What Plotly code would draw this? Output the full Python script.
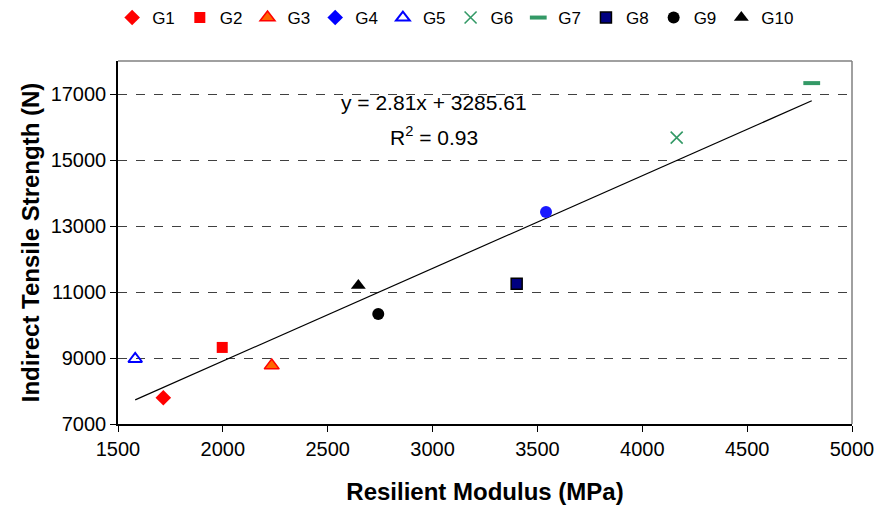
import plotly.graph_objects as go

# Resilient modulus (MPa) vs indirect tensile strength (N) per mix group
groups = ["G1", "G2", "G3", "G4", "G5", "G6", "G7", "G8", "G9", "G10"]
modulus = [1716, 1997, 2233, 3541, 1582, 4164, 4808, 3401, 2741, 2646]
strength = [7795, 9320, 8770, 13425, 8970, 15680, 17330, 11250, 10330, 11200]

# Linear trend reported on the chart
slope = 2.81
intercept = 3285.61
r_squared = 0.93

styles = {
    "G1": dict(symbol="diamond", color="#FF0000", size=12, line=dict(width=0)),
    "G2": dict(symbol="square", color="#FF0000", size=11, line=dict(width=0)),
    "G3": dict(symbol="triangle-up", color="#FF6600", size=13, line=dict(color="#FF0000", width=1.5)),
    "G4": dict(symbol="circle", color="#1A1AFF", size=12, line=dict(width=0)),
    "G5": dict(symbol="triangle-up-open", color="#0000FF", size=12, line=dict(width=2)),
    "G6": dict(symbol="x-thin", color="#339966", size=12, line=dict(color="#339966", width=1.6)),
    "G7": dict(symbol="line-ew", color="#339966", size=12, line=dict(color="#339966", width=4)),
    "G8": dict(symbol="square", color="#000080", size=11, line=dict(color="#000000", width=1.5)),
    "G9": dict(symbol="circle", color="#000000", size=12, line=dict(width=0)),
    "G10": dict(symbol="triangle-up", color="#000000", size=13, line=dict(width=0)),
}

FONT = "Arial, Liberation Sans, sans-serif"

fig = go.Figure()

# Trend line across the range of the data
xmin, xmax = min(modulus), max(modulus)
fig.add_trace(go.Scatter(
    x=[xmin, xmax], y=[slope * xmin + intercept, slope * xmax + intercept],
    mode="lines", line=dict(color="black", width=1.2),
    showlegend=False, hoverinfo="skip"))

for g, xv, yv in zip(groups, modulus, strength):
    st = styles[g]
    if g == "G4":
        # legend key uses a diamond while the point is drawn as a circle
        fig.add_trace(go.Scatter(
            x=[None], y=[None], mode="markers", name=g, legendgroup=g,
            marker=dict(symbol="diamond", color="#0000FF", size=12)))
        fig.add_trace(go.Scatter(
            x=[xv], y=[yv], mode="markers", name=g, legendgroup=g, showlegend=False,
            marker=dict(symbol=st["symbol"], color=st["color"], size=st["size"], line=st["line"])))
    else:
        fig.add_trace(go.Scatter(
            x=[xv], y=[yv], mode="markers", name=g, legendgroup=g,
            marker=dict(symbol=st["symbol"], color=st["color"], size=st["size"], line=st["line"])))

fig.add_annotation(
    x=0.431, y=0.885, xref="paper", yref="paper", showarrow=False, yanchor="middle",
    text=f"y = {slope}x + {intercept}", font=dict(family=FONT, size=21, color="black"))
fig.add_annotation(
    x=0.431, y=0.794, xref="paper", yref="paper", showarrow=False, yanchor="middle",
    text=f"R<sup>2</sup> = {r_squared}", font=dict(family=FONT, size=21, color="black"))

# top and right frame in grey
fig.add_shape(type="line", xref="paper", yref="paper", x0=0, x1=1, y0=1, y1=1,
              line=dict(color="#808080", width=1.5))
fig.add_shape(type="line", xref="paper", yref="paper", x0=1, x1=1, y0=0, y1=1,
              line=dict(color="#808080", width=1.5))

fig.update_layout(
    width=886, height=513,
    margin=dict(l=118, r=28, t=61, b=88),
    paper_bgcolor="white", plot_bgcolor="white",
    font=dict(family=FONT, size=19, color="black"),
    showlegend=True,
    legend=dict(orientation="h", x=0.46, xanchor="center", y=1.0, yref="container",
                yanchor="top", font=dict(family=FONT, size=17), itemwidth=30,
                tracegroupgap=0),
    xaxis=dict(
        range=[1500, 5000], dtick=500, tick0=1500,
        showline=True, linecolor="black", linewidth=1.5,
        ticks="outside", ticklen=6, tickcolor="black",
        showgrid=False, zeroline=False, tickformat="d",
        tickfont=dict(family=FONT, size=20),
        title=dict(text="<b>Resilient Modulus (MPa)</b>",
                   font=dict(family=FONT, size=24), standoff=24)),
    yaxis=dict(
        range=[7000, 18000], dtick=2000, tick0=7000,
        showline=True, linecolor="black", linewidth=1.5,
        ticks="outside", ticklen=6, tickcolor="black",
        showgrid=True, gridcolor="#404040", griddash="dash", gridwidth=1,
        zeroline=False, tickformat="d",
        tickfont=dict(family=FONT, size=20),
        title=dict(text="<b>Indirect Tensile Strength (N)</b>",
                   font=dict(family=FONT, size=24), standoff=4)),
)

fig.write_html("out.html")
